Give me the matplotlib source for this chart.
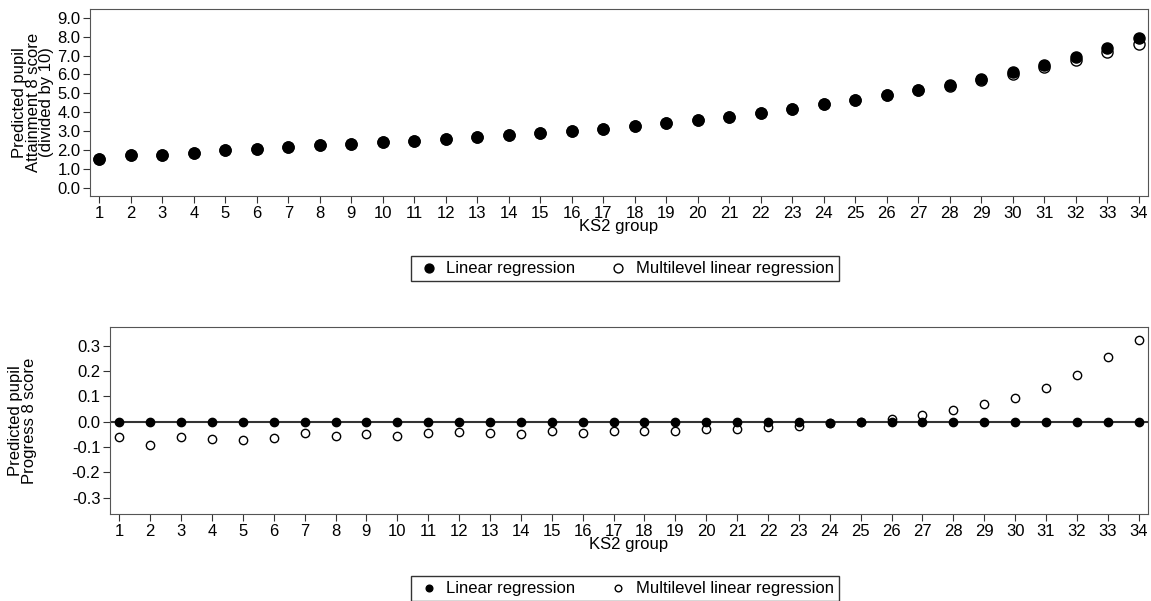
import matplotlib
matplotlib.use("Agg")
import matplotlib.pyplot as plt
import numpy as np

plt.rcParams['font.family'] = ['Liberation Sans', 'DejaVu Sans']

groups = list(range(1, 35))
a8_linear = [1.55,1.75,1.75,1.85,2.0,2.1,2.2,2.28,2.35,2.45,2.52,2.6,2.7,2.8,2.9,3.02,3.15,3.3,3.45,3.6,3.78,3.98,4.2,4.42,4.65,4.9,5.18,5.45,5.78,6.12,6.5,6.9,7.4,7.9]
a8_multi = [1.55,1.75,1.75,1.85,2.0,2.1,2.2,2.28,2.35,2.45,2.52,2.6,2.7,2.8,2.9,3.02,3.15,3.3,3.45,3.6,3.78,3.98,4.2,4.42,4.65,4.9,5.17,5.42,5.72,6.02,6.38,6.78,7.18,7.6]
p8_linear = [0.0]*23 + [-0.005] + [0.0]*10
p8_multi = [-0.06,-0.09,-0.06,-0.07,-0.072,-0.065,-0.045,-0.055,-0.05,-0.058,-0.045,-0.04,-0.045,-0.048,-0.035,-0.045,-0.035,-0.035,-0.035,-0.028,-0.03,-0.022,-0.015,-0.005,0.0,0.01,0.025,0.045,0.07,0.095,0.135,0.185,0.255,0.325]

fig = plt.figure(figsize=(11.51, 6.01), dpi=100)
ax1 = fig.add_axes([90/1151, 1-196/601, 1058/1151, 187/601])
ax2 = fig.add_axes([110/1151, 1-514/601, 1038/1151, 187/601])

def style(ax):
    ax.set_xlim(0.7, 34.3)
    ax.set_xticks(groups)
    ax.tick_params(labelsize=12, length=5, color='#333', pad=2)
    for s in ax.spines.values():
        s.set_color('#555')
    ax.set_xlabel('KS2 group', fontsize=12, labelpad=-1)

ms = 8
ax1.scatter(groups, a8_multi, s=ms**2, facecolors='white', edgecolors='black', linewidths=1, zorder=2, label='Multilevel linear regression')
ax1.scatter(groups, a8_linear, s=ms**2, color='black', zorder=3, label='Linear regression')
ax1.set_ylim(-0.4, 9.45)
ax1.set_yticks(np.arange(0, 9.1, 1.0))
ax1.set_yticklabels([f'{v:.1f}' for v in np.arange(0, 9.1, 1.0)])
ax1.set_ylabel('Predicted pupil\nAttainment 8 score\n(divided by 10)', fontsize=12, linespacing=0.9, labelpad=2)
style(ax1)

ax2.axhline(0, color='#333', lw=1.5, zorder=1)
ax2.scatter(groups, p8_multi, s=6**2, facecolors='white', edgecolors='black', linewidths=1, zorder=2, label='Multilevel linear regression')
ax2.scatter(groups, p8_linear, s=6**2, color='black', zorder=3, label='Linear regression')
ax2.set_ylim(-0.365, 0.375)
yt = [-0.3,-0.2,-0.1,0.0,0.1,0.2,0.3]
ax2.set_yticks(yt)
ax2.set_yticklabels([f'{v:.1f}' for v in yt])
ax2.set_ylabel('Predicted pupil\nProgress 8 score', fontsize=12, linespacing=0.9, labelpad=25)
style(ax2)

for ax, yc in [(ax1, 268), (ax2, 588)]:
    h, l = ax.get_legend_handles_labels()
    leg = fig.legend(h[::-1], l[::-1], loc='center', bbox_to_anchor=(625/1151, 1-yc/601), ncol=2,
                     fontsize=12, frameon=True, fancybox=False, edgecolor='black',
                     columnspacing=1.8, handletextpad=0.3, borderpad=0.3, handlelength=1.5, markerscale=0.8)
    leg.get_frame().set_linewidth(1)

fig.savefig('out.png', dpi=100)
